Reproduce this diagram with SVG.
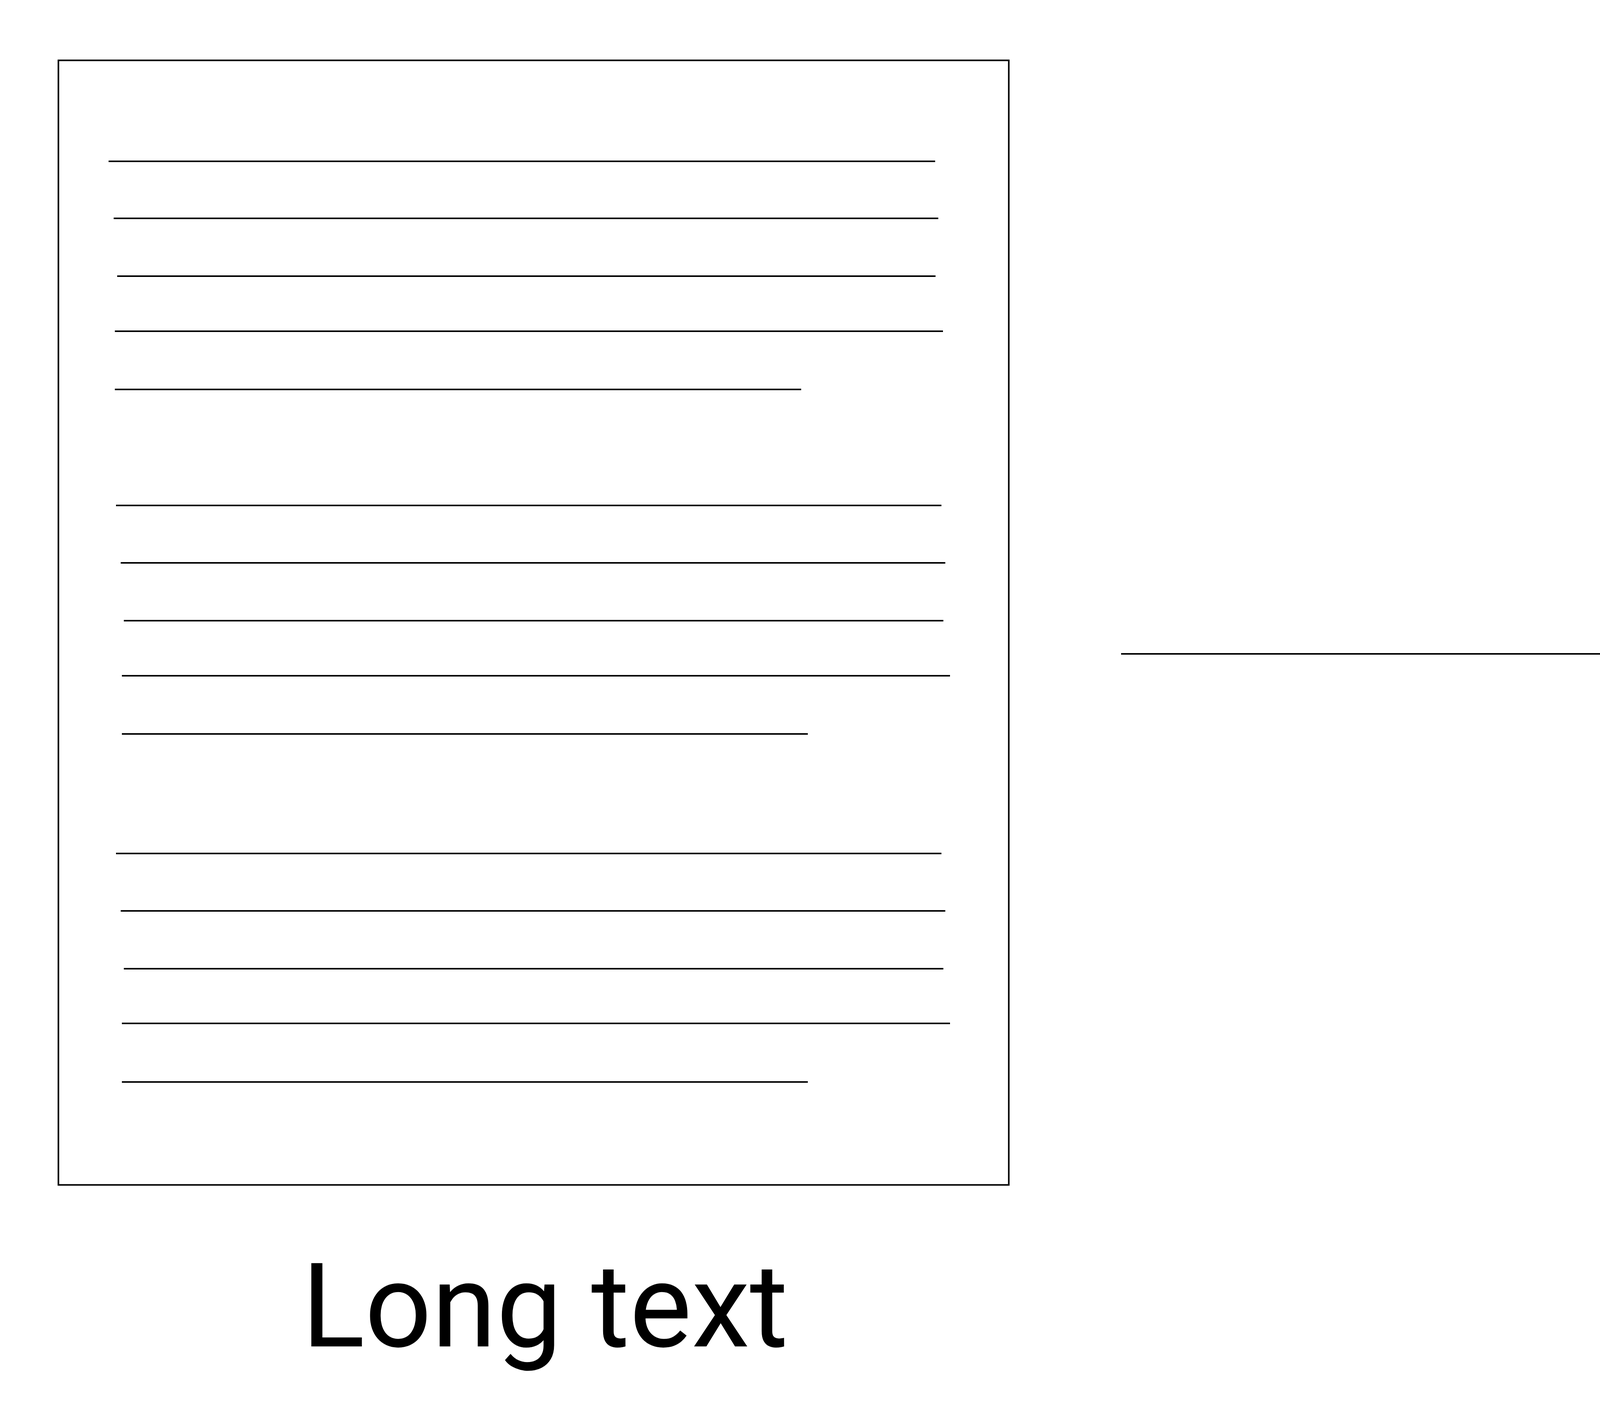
<svg xmlns="http://www.w3.org/2000/svg" width="7198" height="3620" viewBox="0 0 7198 3620">
<style>
.box{fill:#fff;stroke:#000;stroke-width:4}
.ln{stroke:#000;stroke-width:4;fill:none}
.lbl{font-family:Roboto,"Liberation Sans",sans-serif;font-size:300px;fill:#000;text-anchor:middle}
</style>
<rect width="7198" height="3620" fill="#fff"/>
<g id="long-text">
<rect class="box" x="149.5" y="154.5" width="2433" height="2879"/>
<g id="para1">
<line class="ln" x1="278" y1="413" x2="2394" y2="413"/>
<line class="ln" x1="291" y1="559" x2="2402" y2="559"/>
<line class="ln" x1="300" y1="707" x2="2395" y2="707"/>
<line class="ln" x1="294" y1="848" x2="2414" y2="848"/>
<line class="ln" x1="294" y1="997" x2="2051" y2="997"/>
</g>
<g id="para2">
<line class="ln" x1="297" y1="1294" x2="2410" y2="1294"/>
<line class="ln" x1="309" y1="1441" x2="2420" y2="1441"/>
<line class="ln" x1="317" y1="1589" x2="2415" y2="1589"/>
<line class="ln" x1="312" y1="1730" x2="2432" y2="1730"/>
<line class="ln" x1="312" y1="1879" x2="2068" y2="1879"/>
</g>
<g id="para3">
<line class="ln" x1="297" y1="2185" x2="2410" y2="2185"/>
<line class="ln" x1="309" y1="2332" x2="2420" y2="2332"/>
<line class="ln" x1="317" y1="2480" x2="2415" y2="2480"/>
<line class="ln" x1="312" y1="2620" x2="2432" y2="2620"/>
<line class="ln" x1="312" y1="2770" x2="2068" y2="2770"/>
</g>
<text class="lbl" x="1395" y="3447">Long text</text>
</g>
<g id="summary">
<rect class="box" x="4649" y="1097" width="2435" height="1287"/>
<line class="ln" x1="4812" y1="1419" x2="6927" y2="1419"/>
<line class="ln" x1="4823" y1="1565" x2="6935" y2="1565"/>
<line class="ln" x1="4831" y1="1714" x2="6928" y2="1714"/>
<line class="ln" x1="4828" y1="1854" x2="6946" y2="1854"/>
<line class="ln" x1="4828" y1="2003" x2="6585" y2="2003"/>
<text class="lbl" x="5900" y="2772">Summary</text>
</g>
<g id="connectors">
<line class="ln" x1="2870" y1="1674" x2="4367" y2="1674"/>
<polyline class="ln" points="4206,1516 4367,1674 4221,1819"/>
</g>
</svg>
